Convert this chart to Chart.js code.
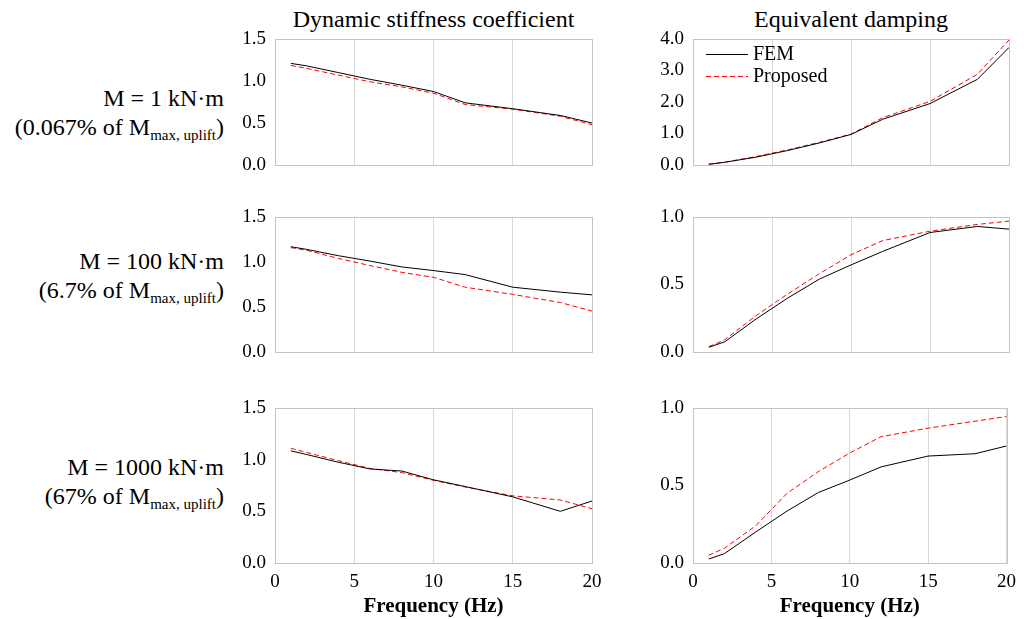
<!DOCTYPE html>
<html>
<head>
<meta charset="utf-8">
<script src="https://cdn.jsdelivr.net/npm/chart.js@4/dist/chart.umd.min.js"></script>
<style>
  html, body { margin: 0; padding: 0; background: #fff; }
  #page { position: relative; width: 1024px; height: 619px; overflow: hidden; font-family: "Liberation Serif", "Times New Roman", serif; color: #000; }
  canvas { position: absolute; left: 0; top: 0; }
  .col-title { position: absolute; top: 4px; font-size: 24px; line-height: 30px; text-align: center; white-space: nowrap; }
  .row-label { position: absolute; right: 800px; font-size: 24px; line-height: 29px; text-align: right; white-space: nowrap; }
  .row-label sub { font-size: 15px; vertical-align: -5px; line-height: 0; }
</style>
</head>
<body>
<div id="page">
  <div class="col-title" style="left:275px;width:317px;">Dynamic stiffness coefficient</div>
  <div class="col-title" style="left:693px;width:316px;">Equivalent damping</div>

  <div class="row-label" style="top:84px;">M = 1 kN·m<br>(0.067% of M<sub>max, uplift</sub>)</div>
  <div class="row-label" style="top:247px;">M = 100 kN·m<br>(6.7% of M<sub>max, uplift</sub>)</div>
  <div class="row-label" style="top:453px;">M = 1000 kN·m<br>(67% of M<sub>max, uplift</sub>)</div>

  <canvas id="stiff-1" width="1024" height="619"></canvas>
  <canvas id="damp-1" width="1024" height="619"></canvas>
  <canvas id="stiff-2" width="1024" height="619"></canvas>
  <canvas id="damp-2" width="1024" height="619"></canvas>
  <canvas id="stiff-3" width="1024" height="619"></canvas>
  <canvas id="damp-3" width="1024" height="619"></canvas>
</div>

<script>
"use strict";

const frequencies = [1, 2, 4, 6, 8, 10, 12, 15, 18, 20];
const xTicks = [0, 5, 10, 15, 20];

// M = 1 kN·m
const stiffFem1 = [1.21, 1.18, 1.10, 1.02, 0.95, 0.875, 0.74, 0.67, 0.59, 0.50];
const stiffProp1 = [1.185, 1.15, 1.07, 0.99, 0.93, 0.855, 0.72, 0.665, 0.58, 0.48];
const dampFem1 = [0.02, 0.085, 0.25, 0.46, 0.70, 0.97, 1.45, 1.95, 2.72, 3.73];
const dampProp1 = [0.03, 0.09, 0.27, 0.48, 0.72, 0.98, 1.50, 2.02, 2.88, 3.97];

// M = 100 kN·m
const stiffFem2 = [1.17, 1.14, 1.07, 1.01, 0.945, 0.905, 0.86, 0.72, 0.665, 0.635];
const stiffProp2 = [1.16, 1.13, 1.04, 0.96, 0.885, 0.83, 0.72, 0.64, 0.55, 0.455];
const dampFem2 = [0.035, 0.075, 0.245, 0.40, 0.54, 0.645, 0.745, 0.885, 0.93, 0.91];
const dampProp2 = [0.04, 0.09, 0.27, 0.43, 0.58, 0.72, 0.825, 0.895, 0.945, 0.97];

// M = 1000 kN·m
const stiffFem3 = [1.085, 1.05, 0.975, 0.91, 0.89, 0.805, 0.74, 0.64, 0.50, 0.60];
const stiffProp3 = [1.11, 1.07, 0.99, 0.915, 0.875, 0.80, 0.735, 0.65, 0.61, 0.525];
const dampFem3 = [0.026, 0.06, 0.20, 0.335, 0.455, 0.535, 0.62, 0.69, 0.705, 0.755];
const dampProp3 = [0.05, 0.095, 0.24, 0.45, 0.59, 0.71, 0.815, 0.87, 0.915, 0.945];

const seriesNames = ["FEM", "Proposed"];

const FONT = '"Liberation Serif", "Times New Roman", serif';
const PAGE_W = 1024;
const PAGE_H = 619;
const Y_AXIS_W = 60;
const X_AXIS_H = 56;

const columns = {
  stiff: { left: 275, right: 592 },
  damp: { left: 693, right: 1009 },
};
const rows = [
  { top: 39, bottom: 165 },
  { top: 217, bottom: 352 },
  { top: 408, bottom: 563 },
];

// light grey frame round each plot area
const framePlugin = {
  id: "frame",
  afterDatasetsDraw(chart) {
    const { ctx, chartArea } = chart;
    ctx.save();
    ctx.strokeStyle = "#c4c4c4";
    ctx.lineWidth = 1;
    ctx.strokeRect(Math.round(chartArea.left) + 0.5, Math.round(chartArea.top) + 0.5,
      Math.round(chartArea.right - chartArea.left), Math.round(chartArea.bottom - chartArea.top));
    ctx.restore();
  },
};

// legend drawn inside the plot area, top left
const insideLegend = {
  id: "insideLegend",
  afterDraw(chart, _args, opts) {
    if (!opts || !opts.show) {
      return;
    }
    const { ctx, chartArea } = chart;
    ctx.save();
    chart.data.datasets.forEach((ds, i) => {
      const y = chartArea.top + 15 + i * 22;
      const x0 = chartArea.left + 13;
      ctx.beginPath();
      ctx.strokeStyle = ds.borderColor;
      ctx.lineWidth = ds.borderWidth;
      ctx.setLineDash(ds.borderDash || []);
      ctx.moveTo(x0, y + 0.5);
      ctx.lineTo(x0 + 42, y + 0.5);
      ctx.stroke();
      ctx.setLineDash([]);
      ctx.fillStyle = "#000";
      ctx.font = `20px ${FONT}`;
      ctx.textBaseline = "middle";
      ctx.fillText(ds.label, x0 + 47, y + 1);
    });
    ctx.restore();
  },
};

function makeDatasets(fem, proposed) {
  return [
    {
      label: seriesNames[0],
      data: frequencies.map((f, i) => ({ x: f, y: fem[i] })),
      borderColor: "#000000",
      borderWidth: 1,
      pointRadius: 0,
      tension: 0,
    },
    {
      label: seriesNames[1],
      data: frequencies.map((f, i) => ({ x: f, y: proposed[i] })),
      borderColor: "#ff0000",
      borderWidth: 1,
      borderDash: [5, 3],
      pointRadius: 0,
      tension: 0,
    },
  ];
}

function createPanel(canvasId, col, row, yMax, yStep, fem, proposed, showLegend) {
  const bottomRow = row === rows[2];
  const xHeight = bottomRow ? X_AXIS_H : 0;
  const ctx = document.getElementById(canvasId).getContext("2d");

  return new Chart(ctx, {
    type: "line",
    data: { datasets: makeDatasets(fem, proposed) },
    plugins: [framePlugin, insideLegend],
    options: {
      responsive: false,
      animation: false,
      devicePixelRatio: 1,
      layout: {
        padding: {
          left: col.left - Y_AXIS_W,
          right: PAGE_W - col.right,
          top: row.top,
          bottom: PAGE_H - row.bottom - xHeight,
        },
      },
      plugins: {
        legend: { display: false },
        tooltip: { enabled: false },
        insideLegend: { show: showLegend },
      },
      scales: {
        x: {
          type: "linear",
          min: 0,
          max: 20,
          afterBuildTicks: (scale) => {
            scale.ticks = xTicks.map((v) => ({ value: v }));
          },
          afterFit: (scale) => {
            scale.height = xHeight;
          },
          grid: { display: true, color: "#d9d9d9", lineWidth: 1, drawTicks: false },
          border: { display: false },
          ticks: {
            display: bottomRow,
            padding: 8,
            maxRotation: 0,
            color: "#000",
            font: { family: FONT, size: 19 },
          },
          title: {
            display: bottomRow,
            text: "Frequency (Hz)",
            color: "#000",
            padding: { top: 0, bottom: 0 },
            font: { family: FONT, size: 21, weight: "bold" },
          },
        },
        y: {
          min: 0,
          max: yMax,
          afterFit: (scale) => {
            scale.width = Y_AXIS_W;
          },
          grid: { display: false, drawTicks: false },
          border: { display: false },
          ticks: {
            stepSize: yStep,
            padding: 9,
            color: "#000",
            font: { family: FONT, size: 19 },
            callback: (value) => Number(value).toFixed(1),
          },
        },
      },
    },
  });
}

createPanel("stiff-1", columns.stiff, rows[0], 1.5, 0.5, stiffFem1, stiffProp1, false);
createPanel("damp-1", columns.damp, rows[0], 4.0, 1.0, dampFem1, dampProp1, true);
createPanel("stiff-2", columns.stiff, rows[1], 1.5, 0.5, stiffFem2, stiffProp2, false);
createPanel("damp-2", columns.damp, rows[1], 1.0, 0.5, dampFem2, dampProp2, false);
createPanel("stiff-3", columns.stiff, rows[2], 1.5, 0.5, stiffFem3, stiffProp3, false);
createPanel("damp-3", columns.damp, rows[2], 1.0, 0.5, dampFem3, dampProp3, false);
</script>
</body>
</html>
